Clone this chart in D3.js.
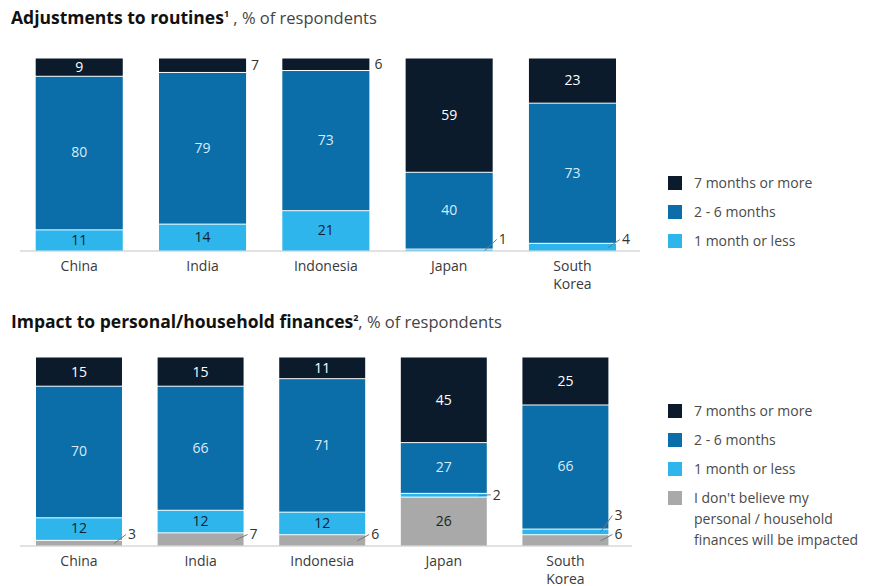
<!DOCTYPE html>
<html>
<head>
<meta charset="utf-8">
<script src="https://cdn.jsdelivr.net/npm/d3@7"></script>
<style>
  html, body { margin: 0; padding: 0; background: #ffffff; }
  svg { display: block; font-family: "Open Sans", "Liberation Sans", Arial, sans-serif; }
</style>
</head>
<body>
<svg id="chart" width="877" height="586"></svg>
<script>
// Survey categories
const countries = ["China", "India", "Indonesia", "Japan", "South Korea"];

// Adjustments to routines, % of respondents
const routinesSeries = ["7 months or more", "2 - 6 months", "1 month or less"];
const routines7Plus  = [9, 7, 6, 59, 23];
const routines2to6   = [80, 79, 73, 40, 73];
const routines1Less  = [11, 14, 21, 1, 4];

// Impact to personal/household finances, % of respondents
const financeSeries = ["7 months or more", "2 - 6 months", "1 month or less",
  "I don't believe my personal / household finances will be impacted"];
const finance7Plus  = [15, 15, 11, 45, 25];
const finance2to6   = [70, 66, 71, 27, 66];
const finance1Less  = [12, 12, 12, 2, 3];
const financeNone   = [3, 7, 6, 26, 6];

const legendLinesNone = ["I don't believe my", "personal / household", "finances will be impacted"];

const colors = {
  "7 months or more": "#0b1b2b",
  "2 - 6 months": "#0b6ea8",
  "1 month or less": "#2db5ec",
  "none": "#a9a9a9"
};
const insideText = {
  "7 months or more": "#ffffff",
  "2 - 6 months": "#d6ecf9",
  "1 month or less": "#14222f",
  "none": "#222222"
};

const svg = d3.select("#chart");

function drawPanel(opts) {
  const g = svg.append("g");
  // stack order bottom-up
  const layers = opts.layers;
  const rows = countries.map((c, i) => {
    const r = { country: c };
    layers.forEach(l => r[l.key] = l.values[i]);
    return r;
  });
  const stack = d3.stack().keys(layers.map(l => l.key))(rows);

  const x = d3.scaleBand().domain(countries)
    .range(opts.xRange).paddingInner(opts.pad).paddingOuter(0);
  const y = d3.scaleLinear().domain([0, 100]).range([opts.baseY, opts.topY]);

  // title
  const title = g.append("text").attr("x", 11).attr("y", opts.titleY)
    .attr("font-size", 16).attr("fill", "#111");
  title.append("tspan").attr("font-weight", "bold").attr("font-size", 17.5).text(opts.titleBold);
  title.append("tspan").attr("font-size", 9).attr("dy", -7).attr("font-weight", "bold").text(opts.sup);
  title.append("tspan").attr("dy", 7).attr("fill", "#444").attr("font-size", 16.5).text(opts.titleRest);

  // baseline
  g.append("line")
    .attr("x1", 20).attr("x2", opts.axisEnd)
    .attr("y1", opts.baseY + 0.5).attr("y2", opts.baseY + 0.5)
    .attr("stroke", "#c4c4c4").attr("stroke-width", 1);

  const outside = [];
  stack.forEach((layer, li) => {
    const key = layer.key;
    const colKey = colors[key] ? key : "none";
    layer.forEach((d, i) => {
      const country = countries[i];
      const v = d[1] - d[0];
      const y0 = y(d[0]), y1 = y(d[1]);
      const isTop = li === stack.length - 1;
      g.append("rect")
        .attr("x", x(country))
        .attr("y", y1 + (isTop ? 0 : 1))
        .attr("width", x.bandwidth())
        .attr("height", Math.max(0, y0 - y1 - (isTop ? 0 : 1)))
        .attr("fill", colors[colKey]);
      const cy = (y0 + y1) / 2;
      if (v >= 8) {
        g.append("text")
          .attr("x", x(country) + x.bandwidth() / 2)
          .attr("y", cy)
          .attr("dy", "0.35em")
          .attr("text-anchor", "middle")
          .attr("font-size", 14)
          .attr("fill", insideText[colKey])
          .text(v);
      } else {
        outside.push({ country, v, cy, isTop, isBottom: li === 0 });
      }
    });
  });

  // small values get a label to the right of the bar
  d3.groups(outside, d => d.country).forEach(([country, items]) => {
    const right = x(country) + x.bandwidth();
    items.forEach(d => {
      d.ly = d.isBottom ? Math.min(d.cy, opts.baseY - 11) : d.cy;
    });
    items.sort((a, b) => b.ly - a.ly);
    for (let k = 1; k < items.length; k++) {
      if (items[k - 1].ly - items[k].ly < 18) items[k].ly = items[k - 1].ly - 19;
    }
    items.forEach(d => {
      if (!d.isTop) {
        g.append("line")
          .attr("x1", right - 8).attr("y1", d.cy + 1)
          .attr("x2", right + 4).attr("y2", d.ly)
          .attr("stroke", "#6f7a84").attr("stroke-width", 1);
      }
      g.append("text")
        .attr("x", right + (d.isTop ? 5 : 6))
        .attr("y", d.ly)
        .attr("dy", "0.35em")
        .attr("font-size", 14)
        .attr("fill", "#333")
        .text(d.v);
    });
  });

  // category labels
  countries.forEach(c => {
    const words = c === "South Korea" ? ["South", "Korea"] : [c];
    const t = g.append("text")
      .attr("x", x(c) + x.bandwidth() / 2)
      .attr("y", opts.baseY + 20)
      .attr("text-anchor", "middle")
      .attr("font-size", 14)
      .attr("fill", "#3a3a3a");
    words.forEach((w, k) => {
      t.append("tspan").attr("x", x(c) + x.bandwidth() / 2)
        .attr("dy", k === 0 ? 0 : 18).text(w);
    });
  });

  // legend
  const lg = g.append("g");
  opts.legend.forEach((item, k) => {
    const cy = opts.legendY + k * 29;
    lg.append("rect").attr("x", 668).attr("y", cy - 7)
      .attr("width", 14).attr("height", 14)
      .attr("fill", item.color);
    const t = lg.append("text").attr("x", 694).attr("y", cy)
      .attr("font-size", 14).attr("fill", "#4a4a4a");
    item.lines.forEach((ln, j) => {
      t.append("tspan").attr("x", 694).attr("dy", j === 0 ? "0.35em" : 21).text(ln);
    });
  });
}

drawPanel({
  titleBold: "Adjustments to routines", sup: "1", titleRest: " , % of respondents",
  titleY: 24,
  topY: 58.5, baseY: 250.5, xRange: [35.7, 616], pad: 0.294, axisEnd: 640,
  layers: [
    { key: routinesSeries[2], values: routines1Less },
    { key: routinesSeries[1], values: routines2to6 },
    { key: routinesSeries[0], values: routines7Plus }
  ],
  legendY: 183,
  legend: routinesSeries.map(s => ({ color: colors[s], lines: [s] }))
});

drawPanel({
  titleBold: "Impact to personal/household finances", sup: "2", titleRest: ", % of respondents",
  titleY: 328,
  topY: 357.5, baseY: 545.5, xRange: [36, 608.4], pad: 0.293, axisEnd: 632,
  layers: [
    { key: "none", values: financeNone },
    { key: financeSeries[2], values: finance1Less },
    { key: financeSeries[1], values: finance2to6 },
    { key: financeSeries[0], values: finance7Plus }
  ],
  legendY: 411,
  legend: [
    { color: colors[financeSeries[0]], lines: [financeSeries[0]] },
    { color: colors[financeSeries[1]], lines: [financeSeries[1]] },
    { color: colors[financeSeries[2]], lines: [financeSeries[2]] },
    { color: colors.none, lines: legendLinesNone }
  ]
});
</script>
</body>
</html>
